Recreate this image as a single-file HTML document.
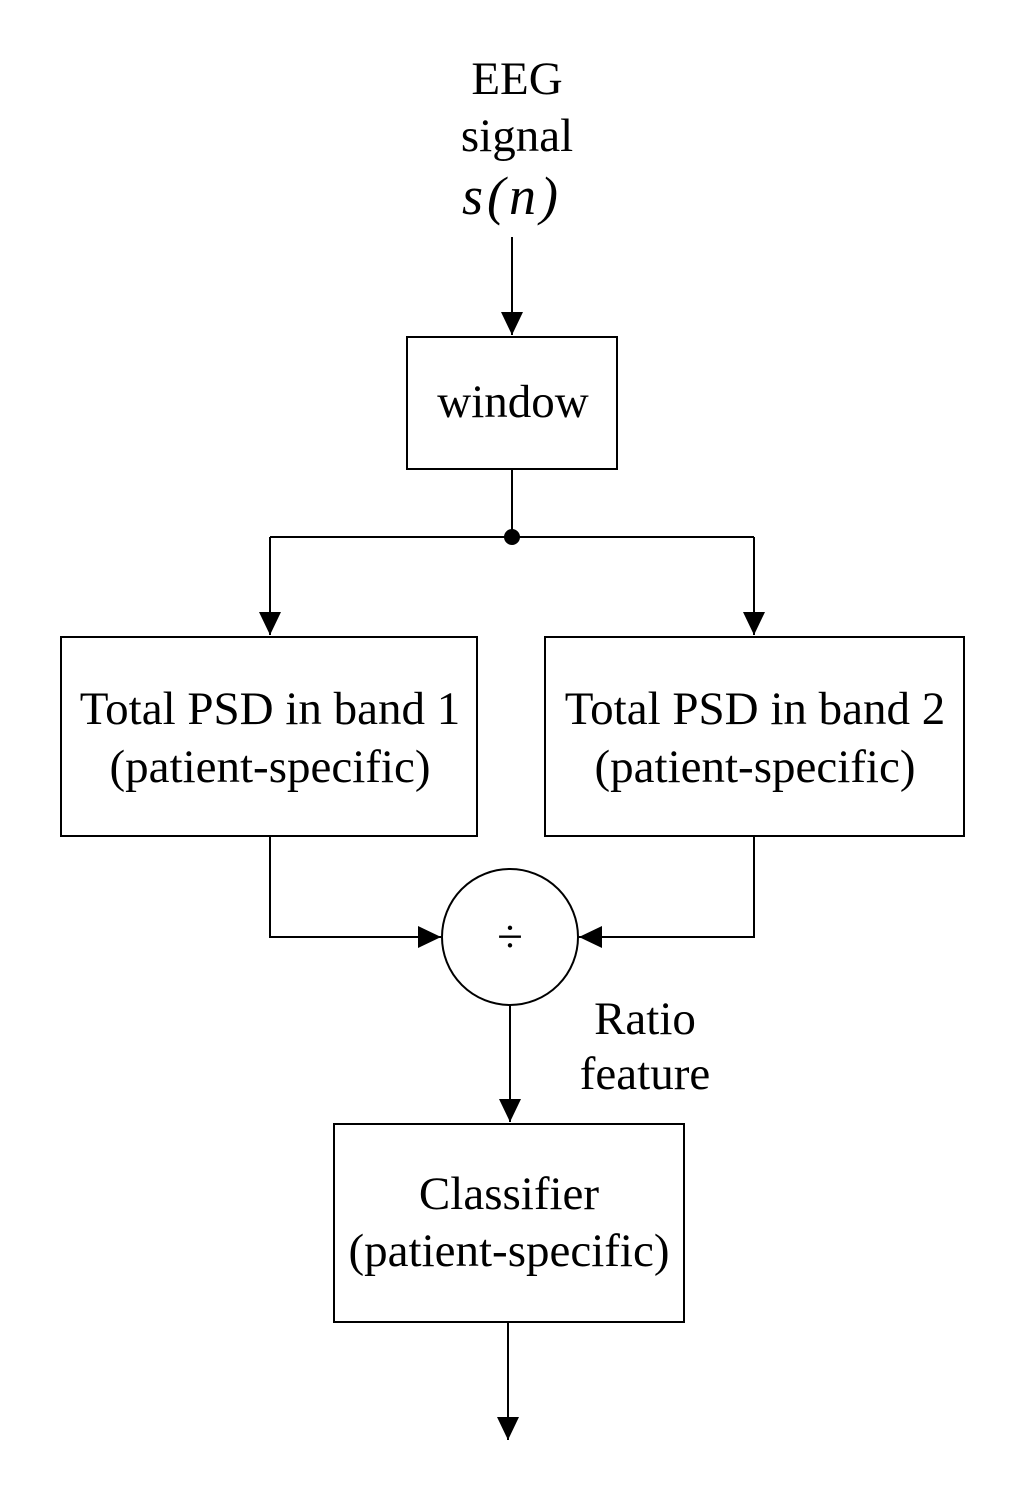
<!DOCTYPE html>
<html><head><style>html,body{margin:0;padding:0;background:#fff}</style></head>
<body>
<svg width="1018" height="1502" viewBox="0 0 1018 1502" xmlns="http://www.w3.org/2000/svg" font-family="Liberation Serif, serif" fill="none" stroke="#000" stroke-width="2">
<g font-size="47" fill="#000" stroke="none" text-anchor="middle">
<text x="517" y="94">EEG</text>
<text x="517" y="151">signal</text>
<text x="512" y="214" font-size="54" font-style="italic" letter-spacing="4">s(n)</text>
<text x="513" y="417">window</text>
<text x="270" y="724">Total PSD in band 1</text>
<text x="270" y="782">(patient-specific)</text>
<text x="755" y="724">Total PSD in band 2</text>
<text x="755" y="782">(patient-specific)</text>
<text x="510" y="952">÷</text>
<text x="645" y="1034">Ratio</text>
<text x="645" y="1089">feature</text>
<text x="509" y="1209">Classifier</text>
<text x="509" y="1266">(patient-specific)</text>
</g>
<rect x="407" y="337" width="210" height="132"/>
<rect x="61" y="637" width="416" height="199"/>
<rect x="545" y="637" width="419" height="199"/>
<rect x="334" y="1124" width="350" height="198"/>
<circle cx="510" cy="937" r="68"/>
<path d="M512 237V335M512 469V537M270 537H754M270 537V635M754 537V635M270 836V937H441M754 836V937H579M510 1005V1122M508 1322V1440"/>
<circle cx="512" cy="537" r="7" fill="#000"/>
<g fill="#000" stroke="none">
<path d="M501 312L523 312L512 335Z"/>
<path d="M259 612L281 612L270 635Z"/>
<path d="M743 612L765 612L754 635Z"/>
<path d="M418 926L418 948L441 937Z"/>
<path d="M602 926L602 948L579 937Z"/>
<path d="M499 1099L521 1099L510 1122Z"/>
<path d="M497 1417L519 1417L508 1440Z"/>
</g>
</svg>
</body></html>
